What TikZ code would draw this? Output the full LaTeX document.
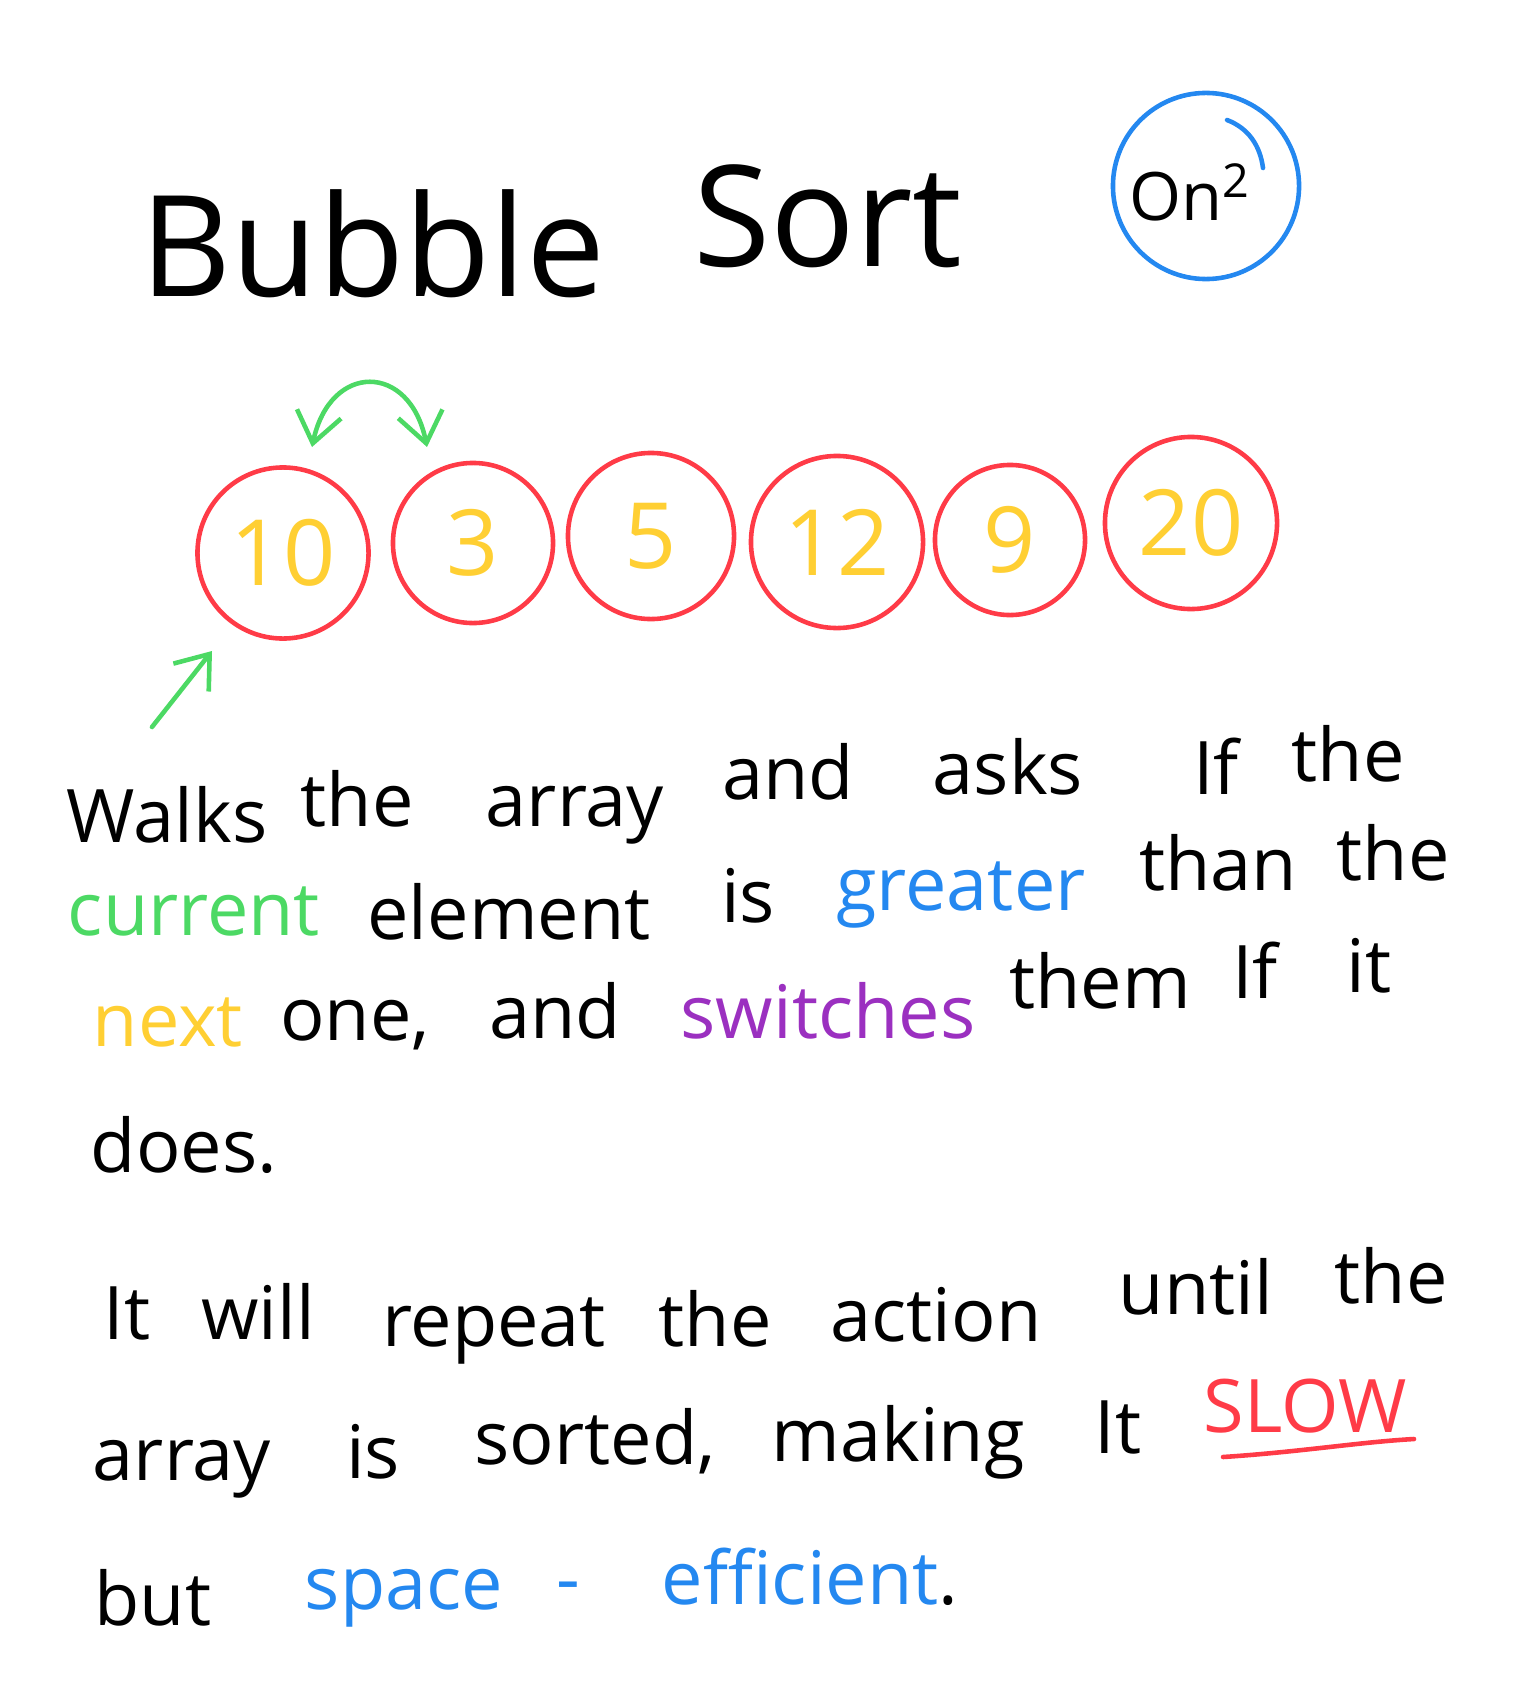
\documentclass[tikz,border=0pt]{standalone}
\usepackage{fontspec}
\setmainfont{Open Sans}
\usepackage{xcolor}
\usetikzlibrary{arrows.meta}

\definecolor{inkred}{HTML}{FF3B47}
\definecolor{inkyellow}{HTML}{FFCF33}
\definecolor{inkgreen}{HTML}{4CD964}
\definecolor{inkblue}{HTML}{2488F0}
\definecolor{inkpurple}{HTML}{9B30C0}

\begin{document}
\begin{tikzpicture}[
    x=0.01cm, y=-0.01cm, line width=1.3pt, line cap=round,
    >={Straight Barb[length=0.3cm, width=0.45cm]},
    elem/.style={circle, draw=inkred, inner sep=0pt, text=inkyellow, font=\fontsize{26}{26}\selectfont},
    word/.style={anchor=base, inner sep=0pt, font=\fontsize{21}{21}\selectfont},
    title/.style={anchor=base, inner sep=0pt, font=\fontsize{40}{40}\selectfont}
]
    \useasboundingbox (0,0) rectangle (1536,1682);

    % title and cost
    \node[title] (bubble) at (373,296) {Bubble};
    \node[title] (sort) at (828,266) {Sort};
    \node[circle, draw=inkblue, inner sep=0pt, minimum size=1.86cm,
          font=\fontsize{19}{19}\selectfont] (cost) at (1206,186) {};
    \node[anchor=base, inner sep=0pt, font=\fontsize{19}{19}\selectfont] (costtext) at (1190,220) {On\textsuperscript{2}};
    \draw[inkblue] (1227,120) .. controls (1248,128) and (1260,145) .. (1263,168);

    % the array
    \node[elem, minimum size=1.71cm] (e1) at (283,553) {10};
    \node[elem, minimum size=1.60cm] (e2) at (473,543) {3};
    \node[elem, minimum size=1.66cm] (e3) at (651,536) {5};
    \node[elem, minimum size=1.72cm] (e4) at (837,542) {12};
    \node[elem, minimum size=1.50cm] (e5) at (1010,540) {9};
    \node[elem, minimum size=1.72cm] (e6) at (1191,523) {20};

    % swap and pointer
    \coordinate (swapL) at (312,447);
    \coordinate (swapR) at (427,447);
    \draw[inkgreen, <->] (swapL) .. controls (330,362) and (410,362) .. (swapR);
    \coordinate (ptr) at (152,727);
    \coordinate (ptrtip) at (212,651);
    \draw[inkgreen, ->] (ptr) -- (ptrtip);

    % text
    \node[word] (a1) at (167,842) {Walks};
    \node[word] (a2) at (357,826) {the};
    \node[word] (a3) at (575,826) {array};
    \node[word] (a4) at (788,799) {and};
    \node[word] (a5) at (1008,794) {asks};
    \node[word] (a6) at (1216,794) {If};
    \node[word] (a7) at (1348,781) {the};

    \node[word, text=inkgreen] (b1) at (194,935) {current};
    \node[word] (b2) at (509,939) {element};
    \node[word] (b3) at (748,922) {is};
    \node[word, text=inkblue] (b4) at (961,910) {greater};
    \node[word] (b5) at (1218,890) {than};
    \node[word] (b6) at (1393,880) {the};

    \node[word, text=inkyellow] (c1) at (168,1046) {next};
    \node[word] (c2) at (355,1040) {one,};
    \node[word] (c3) at (555,1038) {and};
    \node[word, text=inkpurple] (c4) at (828,1038) {switches};
    \node[word] (c5) at (1100,1008) {them};
    \node[word] (c6) at (1255,998) {If};
    \node[word] (c7) at (1369,992) {it};

    \node[word] (d1) at (184,1172) {does.};

    \node[word] (f1) at (127,1339) {It};
    \node[word] (f2) at (258,1339) {will};
    \node[word] (f3) at (494,1346) {repeat};
    \node[word] (f4) at (715,1346) {the};
    \node[word] (f5) at (936,1341) {action};
    \node[word] (f6) at (1196,1314) {until};
    \node[word] (f7) at (1391,1303) {the};

    \node[word] (g1) at (182,1480) {array};
    \node[word] (g2) at (373,1478) {is};
    \node[word] (g3) at (595,1464) {sorted,};
    \node[word] (g4) at (898,1461) {making};
    \node[word] (g5) at (1118,1453) {It};
    \node[word, text=inkred] (g6) at (1305,1432) {SLOW};
    \draw[inkred] (1223,1457) .. controls (1300,1452) and (1360,1442) .. (1414,1439);

    \node[word] (h1) at (153,1625) {but};
    \node[word, text=inkblue] (h2) at (404,1609) {space};
    \node[word, text=inkblue] (h3) at (568,1604) {-};
    \node[word] (h4) at (810,1604) {\textcolor{inkblue}{efficient}.};
\end{tikzpicture}
\end{document}
